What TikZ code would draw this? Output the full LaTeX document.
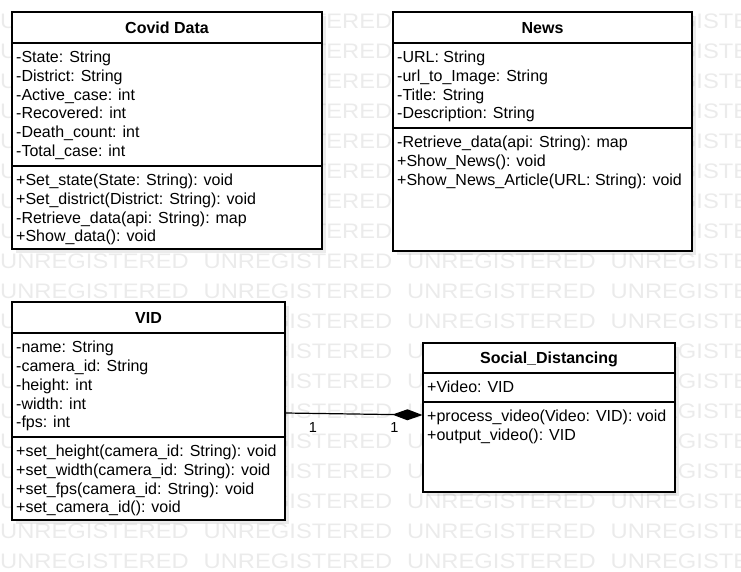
\documentclass[tikz,border=0pt]{standalone}
\usepackage{fontspec}
\setmainfont{Liberation Sans}
\usetikzlibrary{arrows.meta,shadows}

\newcommand{\memberfont}{\fontsize{16}{18.75}\selectfont}

\begin{document}
\begin{tikzpicture}[x=1pt, y=-1pt,
    classbox/.style={draw, line width=1.2pt, fill=white, inner sep=0pt,
      drop shadow={shadow xshift=4pt, shadow yshift=-4pt, opacity=0.08, fill=black}},
    classtitle/.style={anchor=base, inner sep=0pt, font=\bfseries\memberfont},
    members/.style={anchor=north west, inner sep=0pt, align=left, font=\memberfont},
    mult/.style={inner sep=0pt, font=\fontsize{14.5}{17}\selectfont},
    watermark/.style={text=black!8, inner sep=0pt, anchor=west, xscale=1.13,
      font=\fontsize{21}{21}\selectfont}]

    \useasboundingbox (0,0) rectangle (741,571);

    % watermark behind the classes
    \begin{scope}
        \clip (0,0) rectangle (741,571);
        \foreach \r in {0,...,18}
            \foreach \c in {0,...,3}
                \node[watermark] (wm-\r-\c) at (0+203.5*\c, 21.5+30*\r) {UNREGISTERED};
    \end{scope}

    % class boxes
    \node[classbox, minimum width=310pt, minimum height=237pt] (covid) at (167,130.5) {};
    \node[classbox, minimum width=299pt, minimum height=239pt] (news) at (542.5,131.5) {};
    \node[classbox, minimum width=273pt, minimum height=218pt] (vid) at (148.5,411) {};
    \node[classbox, minimum width=252pt, minimum height=149pt] (sd) at (549,417.5) {};

    % compartments
    \draw[line width=1.2pt] (covid.west |- 0,43) -- (covid.east |- 0,43);
    \draw[line width=1.2pt] (covid.west |- 0,166) -- (covid.east |- 0,166);
    \draw[line width=1.2pt] (news.west |- 0,43) -- (news.east |- 0,43);
    \draw[line width=1.2pt] (news.west |- 0,128) -- (news.east |- 0,128);
    \draw[line width=1.2pt] (vid.west |- 0,333) -- (vid.east |- 0,333);
    \draw[line width=1.2pt] (vid.west |- 0,437) -- (vid.east |- 0,437);
    \draw[line width=1.2pt] (sd.west |- 0,373) -- (sd.east |- 0,373);
    \draw[line width=1.2pt] (sd.west |- 0,402) -- (sd.east |- 0,402);

    % Covid Data
    \node[classtitle] (covid-title) at (167,33.3) {Covid Data};
    \node[members] (covid-attrs) at (16,49.2) {\strut-State: String\\-District: String\\-Active\_case: int\\-Recovered: int\\-Death\_count: int\\-Total\_case: int};
    \node[members] (covid-ops) at (16,172.2) {\strut+Set\_state(State: String): void\\+Set\_district(District: String): void\\-Retrieve\_data(api: String): map\\+Show\_data(): void};

    % News
    \node[classtitle] (news-title) at (542.5,33.3) {News};
    \node[members] (news-attrs) at (397,49.2) {\strut-URL: String\\-url\_to\_Image: String\\-Title: String\\-Description: String};
    \node[members] (news-ops) at (397,134.2) {\strut-Retrieve\_data(api: String): map\\+Show\_News(): void\\+Show\_News\_Article(URL: String): void};

    % VID
    \node[classtitle] (vid-title) at (148.5,323.3) {VID};
    \node[members] (vid-attrs) at (16,339.5) {\strut-name: String\\-camera\_id: String\\-height: int\\-width: int\\-fps: int};
    \node[members] (vid-ops) at (16,443.2) {\strut+set\_height(camera\_id: String): void\\+set\_width(camera\_id: String): void\\+set\_fps(camera\_id: String): void\\+set\_camera\_id(): void};

    % Social_Distancing
    \node[classtitle] (sd-title) at (549,363.5) {Social\_Distancing};
    \node[members] (sd-attrs) at (427,379.2) {\strut+Video: VID};
    \node[members] (sd-ops) at (427,408.2) {\strut+process\_video(Video: VID): void\\+output\_video(): VID};

    % composition
    \draw[line width=1.2pt, -{Diamond[length=30pt, width=11pt]}] ([yshift=-2pt]vid.east) -- ([yshift=2.5pt]sd.west);
    \node[mult] (vid-mult) at (313,428) {1};
    \node[mult] (sd-mult) at (394.5,428) {1};
\end{tikzpicture}
\end{document}
